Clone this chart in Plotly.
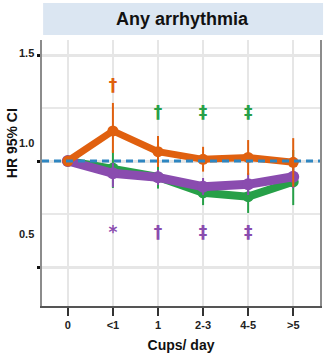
import plotly.graph_objects as go

categories = ["0", "<1", "1", "2-3", "4-5", ">5"]

orange_hr = [1.0, 1.142, 1.044, 1.008, 1.017, 0.994]
orange_lo = [1.0, 1.038, 0.972, 0.950, 0.934, 0.879]
orange_hi = [1.0, 1.274, 1.118, 1.067, 1.099, 1.108]

green_hr = [1.0, 0.967, 0.925, 0.850, 0.832, 0.902]
green_lo = [1.0, 0.873, 0.870, 0.792, 0.755, 0.792]
green_hi = [1.0, 1.052, 0.985, 0.910, 0.887, 1.052]

purple_hr = [1.0, 0.942, 0.923, 0.879, 0.890, 0.926]
purple_lo = [1.0, 0.877, 0.887, 0.840, 0.840, 0.873]
purple_hi = [1.0, 0.991, 0.958, 0.920, 0.943, 0.972]

orange_sig = ["", "†", "", "", "", ""]
green_sig = ["", "", "†", "‡", "‡", ""]
purple_sig = ["", "*", "†", "‡", "‡", ""]

y_tick_labels = ["1.5", "1.0", "0.5"]

ORANGE = "#e0600f"
GREEN = "#27a048"
PURPLE = "#8a4caf"
BLUE = "#2e86c1"

fig = go.Figure()


def add_series(hr, lo, hi, color, lw, msize):
    plus = [h - v for h, v in zip(hi, hr)]
    minus = [v - l for v, l in zip(hr, lo)]
    fig.add_trace(go.Scatter(
        x=categories, y=hr, mode="lines+markers",
        line=dict(color=color, width=lw),
        marker=dict(color=color, size=msize, symbol="circle"),
        error_y=dict(type="data", array=plus, arrayminus=minus, symmetric=False,
                     color=color, thickness=2, width=0),
        showlegend=False, hoverinfo="skip",
    ))


add_series(green_hr, green_lo, green_hi, GREEN, 8, 11)
add_series(purple_hr, purple_lo, purple_hi, PURPLE, 9, 12)
add_series(orange_hr, orange_lo, orange_hi, ORANGE, 7, 11)


def add_sig(labels, yval, color):
    fig.add_trace(go.Scatter(
        x=categories, y=[yval] * len(categories), mode="text",
        text=["<b>" + t + "</b>" if t else "" for t in labels],
        textfont=dict(color=color, size=17, family="DejaVu Sans, Liberation Sans"),
        showlegend=False, hoverinfo="skip",
    ))


add_sig(orange_sig, 1.349, ORANGE)
add_sig(green_sig, 1.222, GREEN)
add_sig(purple_sig, 0.655, PURPLE)

# reference line HR = 1
fig.add_shape(type="line", xref="paper", yref="y", x0=0, x1=1, y0=1.0, y1=1.0,
              line=dict(color=BLUE, width=3, dash="7px,5px"), layer="above")

# title box
fig.add_shape(type="rect", xref="paper", yref="paper", x0=0.004, x1=1.011, y0=1.019, y1=1.139,
              fillcolor="#dbe6f2", line=dict(width=0), layer="below")
fig.add_annotation(text="<b>Any arrhythmia</b>", xref="paper", yref="paper", x=0.507, y=1.079,
                   showarrow=False, font=dict(size=18, color="#111", family="Liberation Sans, Arial"),
                   xanchor="center", yanchor="middle")

# y-axis title
fig.add_annotation(text="<b>HR 95% CI</b>", xref="paper", yref="paper", x=-0.107, y=0.613,
                   showarrow=False, textangle=-90,
                   font=dict(size=14, color="#111", family="Liberation Sans Narrow, Arial Narrow, Liberation Sans"),
                   xanchor="center", yanchor="middle")

# y tick labels (offset as in the source figure)
for lab, yv in zip(y_tick_labels, [1.509, 1.085, 0.656]):
    fig.add_annotation(text="<b>" + lab + "</b>", xref="paper", yref="y", x=-0.022, y=yv,
                       showarrow=False, xanchor="right", yanchor="middle",
                       font=dict(size=11, color="#222", family="Liberation Sans, Arial"))

fig.update_layout(
    width=328, height=362,
    margin=dict(l=42, r=6, t=40, b=56),
    paper_bgcolor="white", plot_bgcolor="white",
    xaxis=dict(
        type="category", range=[-0.573, 5.594],
        showgrid=True, gridcolor="#e6e6e6", gridwidth=1.5,
        showline=True, linecolor="#555", linewidth=2,
        ticks="outside", ticklen=8, tickwidth=2, tickcolor="#333",
        tickfont=dict(size=11, color="#222", family="Liberation Sans, Arial", weight="bold"),
        title=dict(text="<b>Cups/ day</b>", font=dict(size=14, color="#111", family="Liberation Sans, Arial"),
                   standoff=10),
        zeroline=False,
    ),
    yaxis=dict(
        range=[0.316, 1.571],
        tickvals=[0.5, 1.0, 1.5], showticklabels=False,
        ticks="outside", ticklen=3, tickwidth=3, tickcolor="#111",
        showgrid=True, gridcolor="#e6e6e6", gridwidth=3,
        minor=dict(tickvals=[0.75, 1.25], showgrid=True, gridcolor="#e8e8e8", gridwidth=1.5, ticks=""),
        showline=True, linecolor="#8c8c8c", linewidth=1.5, mirror=True,
        zeroline=False,
    ),
)

fig.write_html("out.html")
